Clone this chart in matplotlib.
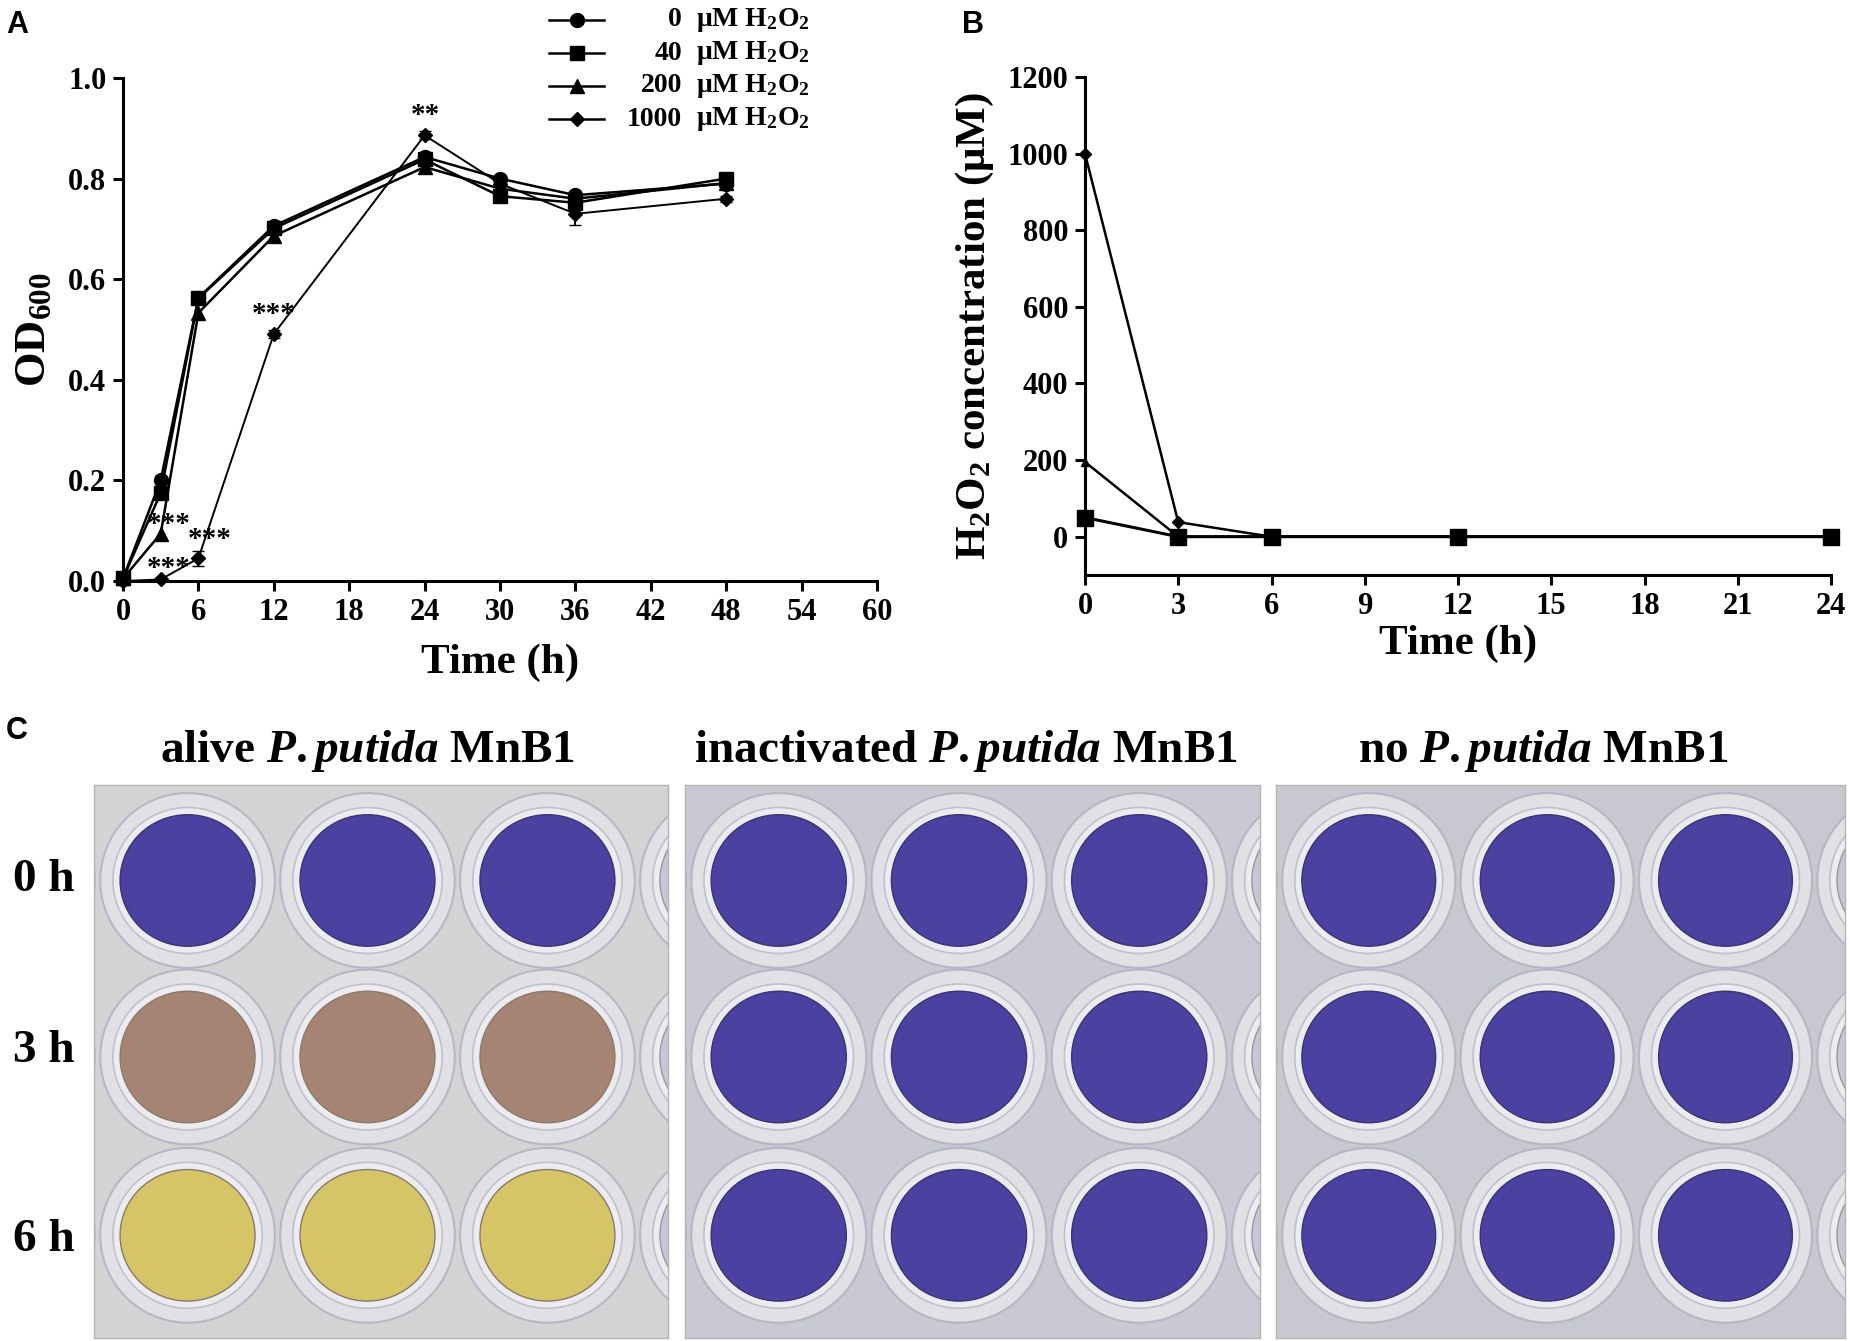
import numpy as np
import matplotlib
matplotlib.use("Agg")
import matplotlib.pyplot as plt
from matplotlib.patches import Ellipse
from matplotlib.lines import Line2D

plt.rcParams.update({
    'font.family': ['Liberation Serif', 'DejaVu Serif'],
    'font.weight': 'bold',
    'mathtext.fontset': 'custom',
    'mathtext.rm': 'Liberation Serif:bold',
    'mathtext.it': 'Liberation Serif:italic:bold',
    'mathtext.bf': 'Liberation Serif:bold',
    'mathtext.default': 'rm',
    'axes.linewidth': 2.2,
})

# ---------------- data ----------------
time_a = [0, 3, 6, 12, 24, 30, 36, 48]
od_0 = [0.005, 0.200, 0.563, 0.706, 0.843, 0.800, 0.767, 0.790]
od_40 = [0.005, 0.175, 0.562, 0.701, 0.838, 0.765, 0.752, 0.800]
od_200 = [0.005, 0.094, 0.533, 0.686, 0.823, 0.780, 0.760, 0.791]
od_1000 = [0.000, 0.003, 0.045, 0.491, 0.886, 0.790, 0.730, 0.760]
err_1000 = [0.002, 0.003, 0.015, 0.008, 0.008, 0.006, 0.022, 0.006]
conc_labels = ["0", "40", "200", "1000"]
sig_marks = [("**", 24.1, 0.925), ("***", 12.0, 0.530), ("***", 3.6, 0.113),
             ("***", 3.6, 0.024), ("***", 6.9, 0.082)]

time_b = [0, 3, 6, 12, 24]
h2o2_40 = [50, 0, 0, 0, 0]
h2o2_200 = [195, 0, 0, 0, 0]
h2o2_1000 = [1000, 38, 0, 0, 0]

plate_titles = ["alive", "inactivated", "no"]
row_labels = ["0 h", "3 h", "6 h"]
purple, brown, yellow = "#4c40a0", "#a68474", "#d5c567"
plate_rows = [[purple, brown, yellow], [purple, purple, purple], [purple, purple, purple]]
plate_bg = ["#d4d3d3", "#c9c9d3", "#c8c8d1"]

# ---------------- figure ----------------
W, H = 1850, 1341
fig = plt.figure(figsize=(W / 100, H / 100), dpi=100)


def fx(px):
    return px / W


def fy(py):
    return 1 - py / H


def axes_px(l, t, r, b):
    return fig.add_axes([fx(l), fy(b), (r - l) / W, (b - t) / H])


def style(ax):
    for s in ['top', 'right']:
        ax.spines[s].set_visible(False)
    ax.tick_params(direction='out', width=2.2, length=7, labelsize=22, pad=5)
    for lab in ax.get_xticklabels() + ax.get_yticklabels():
        lab.set_fontweight('bold')


# ---------------- panel A ----------------
axA = axes_px(123, 78, 877, 581)
series = [(od_0, 'o', 10), (od_40, 's', 10), (od_200, '^', 10.5), (od_1000, 'D', 7.5)]
for i, (vals, m, ms) in enumerate(series):
    lw = 1.4 if i == 3 else 1.8
    if i == 3:
        axA.errorbar(time_a, vals, yerr=err_1000, color='black', lw=lw, marker=m, ms=ms,
                     capsize=4, elinewidth=1.4, clip_on=False, zorder=3)
    else:
        axA.plot(time_a, vals, color='black', lw=lw, marker=m, ms=ms, clip_on=False, zorder=3)
axA.set_xlim(0, 60)
axA.set_ylim(0, 1.0)
axA.set_xticks(np.arange(0, 61, 6))
axA.set_yticks(np.arange(0, 1.01, 0.2))
axA.set_yticklabels([f"{v:.1f}" for v in np.arange(0, 1.01, 0.2)])
style(axA)
axA.set_xlabel("Time (h)", fontsize=31, fontweight='bold', labelpad=12)
axA.set_ylabel("OD$_{600}$", fontsize=32, fontweight='bold', labelpad=10)
for txt, x, y in sig_marks:
    axA.text(x, y, txt, fontsize=21, ha='center', va='center', fontweight='bold')

# legend (manual)
leg_rows_y = [20, 53, 86, 119]
for (vals, m, ms), lab, yy in zip(series, conc_labels, leg_rows_y):
    fig.add_artist(Line2D([fx(549), fx(604)], [fy(yy), fy(yy)], color='black', lw=1.8,
                          transform=fig.transFigure))
    fig.add_artist(Line2D([fx(577)], [fy(yy)], color='black', marker=m, ms=ms,
                          transform=fig.transFigure))
    fig.text(fx(682), fy(yy), lab, fontsize=20, ha='right', va='center', fontweight='bold')
    fig.text(fx(696), fy(yy), "μM H$_2$O$_2$", fontsize=20, ha='left', va='center',
             fontweight='bold')

# ---------------- panel B ----------------
axB = axes_px(1085, 77, 1831, 575)
axB.plot(time_b, h2o2_1000, color='black', lw=1.8, marker='D', ms=6, clip_on=False, zorder=3)
axB.plot(time_b, h2o2_200, color='black', lw=1.8, marker='^', ms=6, clip_on=False, zorder=3)
axB.plot(time_b, h2o2_40, color='black', lw=2.2, marker='s', ms=12, clip_on=False, zorder=4)
axB.set_xlim(0, 24)
axB.set_ylim(-100, 1200)
axB.set_xticks(np.arange(0, 25, 3))
axB.set_yticks(np.arange(0, 1201, 200))
style(axB)
axB.set_xlabel("Time (h)", fontsize=31, fontweight='bold', labelpad=3)
axB.set_ylabel("H$_2$O$_2$ concentration (μM)", fontsize=31, fontweight='bold', labelpad=8)

# panel letters
for letter, x, y in [("A", 6, 10), ("B", 962, 10), ("C", 6, 716)]:
    fig.text(fx(x), fy(y), letter, fontsize=22, fontweight='bold', ha='left', va='top',
             family=['Liberation Sans', 'DejaVu Sans'])

# ---------------- panel C ----------------
plates_px = [(94, 668), (685, 1260), (1276, 1845)]
title_x = [368, 966, 1543]
top_px, bot_px = 785, 1338
col_c = [-0.48, 0.52, 1.52, 2.52, 3.52]
row_c = [0.53, 1.51, 2.50]
for p, ((l, r), title, rows, bg, tx) in enumerate(zip(plates_px, plate_titles, plate_rows,
                                                      plate_bg, title_x)):
    ax = axes_px(l, top_px, r, bot_px)
    ax.set_facecolor(bg)
    ax.set_xlim(0, 3.19)
    ax.set_ylim(3.07, 0)
    ax.set_xticks([])
    ax.set_yticks([])
    for s in ax.spines.values():
        s.set_color('#b5b5b5')
        s.set_linewidth(1.0)
    for ci, cx in enumerate(col_c):
        for ri, cy in enumerate(row_c):
            ring = Ellipse((cx, cy), 0.97, 0.97, facecolor='#e3e3e8', edgecolor='#b3b3c3',
                           lw=1.5, alpha=0.9)
            ax.add_patch(ring)
            inner_ring = Ellipse((cx, cy), 0.83, 0.81, facecolor='#ececf0', edgecolor='#c0c0cc',
                                 lw=1.2)
            ax.add_patch(inner_ring)
            inside = 0 < ci < 4
            col = rows[ri] if inside else '#b9b6d0'
            edge = '#3a3470' if col == purple else '#8a7a6a'
            liquid = Ellipse((cx, cy), 0.75, 0.73, facecolor=col, edgecolor=edge,
                             lw=1.0, alpha=1.0 if inside else 0.7)
            ax.add_patch(liquid)
    fig.text(fx(tx), fy(751), f"{title} $\\mathit{{P.putida}}$ MnB1", fontsize=34,
             ha='center', va='center', fontweight='bold')

for lab, yy in zip(row_labels, [880, 1051, 1240]):
    fig.text(fx(44), fy(yy), lab, fontsize=34, ha='center', va='center', fontweight='bold')

fig.savefig("out.png", dpi=100)
